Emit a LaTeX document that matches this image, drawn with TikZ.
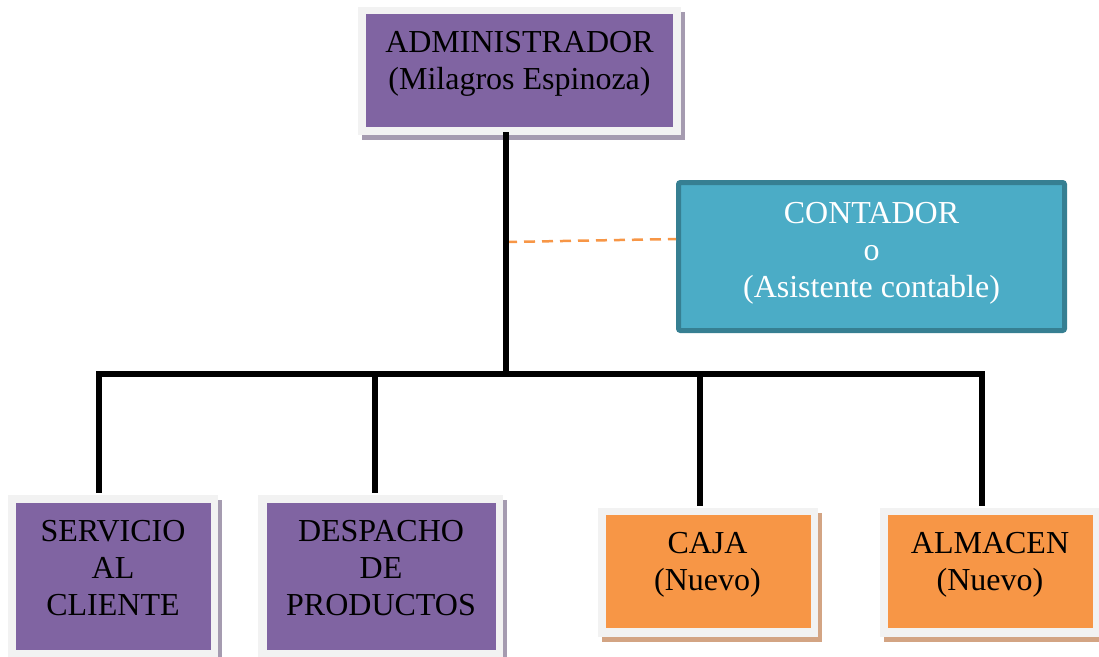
\documentclass[tikz,border=0pt]{standalone}
\usepackage{fontspec}
\setmainfont{Liberation Serif}
\usetikzlibrary{shadows}
\definecolor{boxpurple}{HTML}{8064A2}
\definecolor{framegray}{HTML}{F2F2F2}
\definecolor{purpleshadow}{HTML}{A59BB0}
\definecolor{boxorange}{HTML}{F79646}
\definecolor{orangeshadow}{HTML}{D3A483}
\definecolor{tealfill}{HTML}{4BACC6}
\definecolor{tealedge}{HTML}{367F92}
\tikzset{
  frame/.style={rectangle, fill=framegray, inner sep=0pt},
  purpleframe/.style={frame, drop shadow={shadow xshift=4pt, shadow yshift=-5pt, fill=purpleshadow, opacity=1}},
  orangeframe/.style={frame, drop shadow={shadow xshift=4pt, shadow yshift=-5pt, fill=orangeshadow, opacity=1}},
  purplebox/.style={rectangle, fill=boxpurple, inner sep=0pt},
  orangebox/.style={rectangle, fill=boxorange, inner sep=0pt},
  tealbox/.style={rectangle, fill=tealfill, draw=tealedge, line width=5pt, rounded corners=2pt, inner sep=0pt},
  label/.style={inner sep=0pt, align=center, font=\fontsize{32}{37}\selectfont},
  link/.style={line width=6pt, black},
  aux/.style={draw=boxorange, line width=2.5pt, dash pattern=on 11pt off 7pt},
}
\begin{document}
\begin{tikzpicture}[x=1pt, y=-1pt]
\useasboundingbox (0,0) rectangle (1099,656);

% top box
\node[purpleframe, minimum width=323pt, minimum height=128pt] (adminframe) at (519.5,71) {};
\node[purplebox, minimum width=307pt, minimum height=113pt] (adminbox) at (519.5,70.5) {};
\node[label] (admintext) at (519.5,64) {ADMINISTRADOR\\(Milagros Espinoza)};

% advisory box
\node[tealbox, minimum width=386pt, minimum height=148pt] (contador) at (871.5,256.5) {};
\node[label, text=white] (contadortext) at (871.5,253) {CONTADOR\\o\\(Asistente contable)};

% lower boxes
\node[purpleframe, minimum width=210pt, minimum height=162pt] (svcframe) at (113,576) {};
\node[purplebox, minimum width=195pt, minimum height=147pt] (svcbox) at (113.5,576.5) {};
\node[label] (svctext) at (113,568.5) {SERVICIO\\AL\\CLIENTE};

\node[purpleframe, minimum width=245pt, minimum height=162pt] (despframe) at (380.5,576) {};
\node[purplebox, minimum width=229pt, minimum height=147pt] (despbox) at (381.5,576.5) {};
\node[label] (desptext) at (381,568.5) {DESPACHO\\DE\\PRODUCTOS};

\node[orangeframe, minimum width=220pt, minimum height=129pt] (cajaframe) at (708,572.5) {};
\node[orangebox, minimum width=205pt, minimum height=113pt] (cajabox) at (708.5,571.5) {};
\node[label] (cajatext) at (707.5,564.6) {CAJA\\(Nuevo)};

\node[orangeframe, minimum width=220pt, minimum height=129pt] (almframe) at (990,572.5) {};
\node[orangebox, minimum width=205pt, minimum height=113pt] (almbox) at (990.5,571.5) {};
\node[label] (almtext) at (990,564.6) {ALMACEN\\(Nuevo)};

% connector points
\coordinate (busL) at (98.5,373.5);
\coordinate (hub) at (506,373.5);
\coordinate (busR) at (982,373.5);
\coordinate (despx) at (375,373.5);
\coordinate (cajax) at (700,373.5);
\coordinate (dashL) at (506,242);
\coordinate (dashR) at (676,239);

% connectors
\draw[aux] (dashL) -- (dashR);
\draw[link] ([yshift=3pt]adminframe.south -| hub) -- (hub);
\draw[link, line join=miter] ([yshift=2pt]svcframe.north -| busL) -- (busL) -- (busR) -- ([yshift=2pt]almframe.north -| busR);
\draw[link] (despx) -- ([yshift=2pt]despframe.north -| despx);
\draw[link] (cajax) -- ([yshift=2pt]cajaframe.north -| cajax);
\end{tikzpicture}
\end{document}
